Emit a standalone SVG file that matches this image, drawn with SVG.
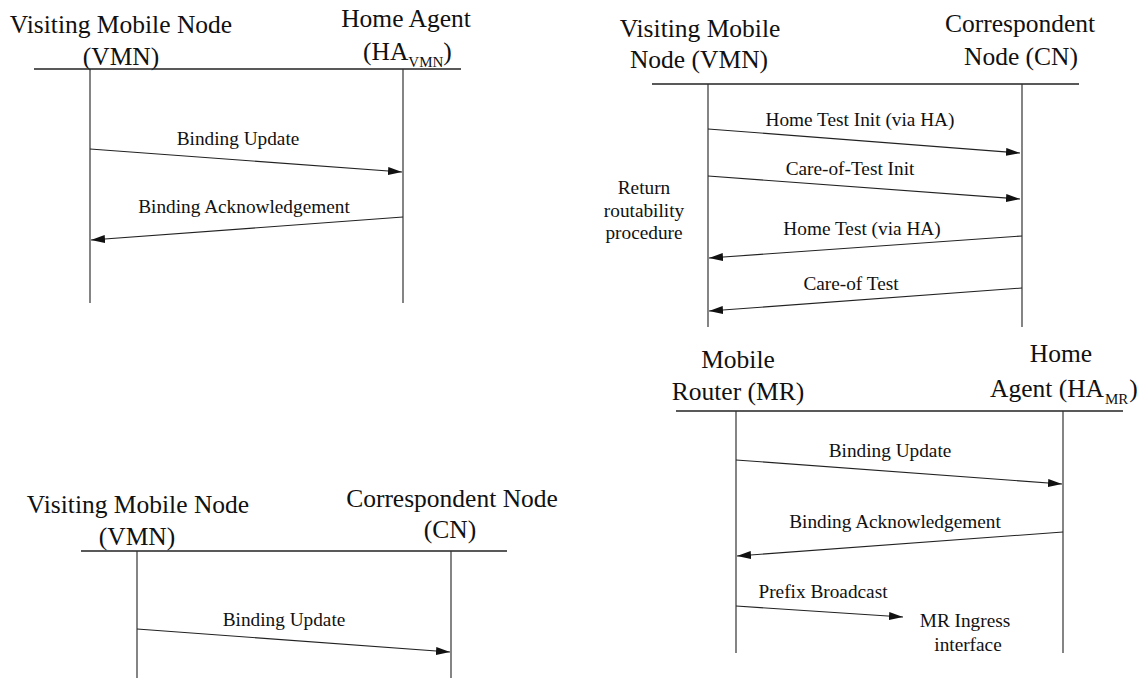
<svg xmlns="http://www.w3.org/2000/svg" width="1148" height="678" viewBox="0 0 1148 678">
<style>
.t{font-family:"Liberation Serif","Times New Roman",serif;font-size:25.5px;fill:#111;}
.l{font-family:"Liberation Serif","Times New Roman",serif;font-size:19.3px;fill:#111;}
.m{text-anchor:middle;}
.sub{font-size:15px;}
.hdr{stroke:#222;stroke-width:1.3;}
.life{stroke:#333;stroke-width:1.2;}
.msg{stroke:#222;stroke-width:1.1;fill:none;marker-end:url(#ah);}
</style>
<defs>
<marker id="ah" viewBox="0 0 14 8" refX="14" refY="4" markerWidth="14" markerHeight="8" markerUnits="userSpaceOnUse" orient="auto">
<path d="M0,0 L14,4 L0,8 z" fill="#111"/>
</marker>
</defs>
<rect width="1148" height="678" fill="#fff"/>

<!-- Panel 1 -->
<g id="p1-vmn">
<text class="t m" x="121" y="33">Visiting Mobile Node</text>
<text class="t m" x="121" y="65">(VMN)</text>
<line class="hdr" x1="34" y1="69" x2="248" y2="69"/>
<line class="life" x1="90" y1="69" x2="90" y2="303"/>
</g>
<g id="p1-ha">
<text class="t m" x="406" y="27">Home Agent</text>
<text class="t" x="363" y="60">(HA<tspan class="sub" dy="7">VMN</tspan><tspan dy="-7">)</tspan></text>
<line class="hdr" x1="248" y1="69" x2="461" y2="69"/>
<line class="life" x1="403" y1="69" x2="403" y2="303"/>
</g>

<!-- Panel 2 -->
<g id="p2-vmn">
<text class="t m" x="700" y="37">Visiting Mobile</text>
<text class="t m" x="699" y="68">Node (VMN)</text>
<text class="l m" x="644" y="194">Return</text>
<text class="l m" x="644" y="217">routability</text>
<text class="l m" x="644" y="239">procedure</text>
<line class="hdr" x1="652" y1="84" x2="866" y2="84"/>
<line class="life" x1="708" y1="84" x2="708" y2="327"/>
</g>
<g id="p2-cn">
<text class="t m" x="1020" y="32">Correspondent</text>
<text class="t m" x="1021" y="65">Node (CN)</text>
<line class="hdr" x1="866" y1="84" x2="1079" y2="84"/>
<line class="life" x1="1022" y1="84" x2="1022" y2="327"/>
</g>

<!-- Panel 3 -->
<g id="p3-mr">
<text class="t m" x="738" y="368">Mobile</text>
<text class="t m" x="738" y="400">Router (MR)</text>
<text class="l m" x="965" y="627">MR Ingress</text>
<text class="l m" x="968" y="651">interface</text>
<line class="hdr" x1="676" y1="411" x2="900" y2="411"/>
<line class="life" x1="736" y1="411" x2="736" y2="653"/>
</g>
<g id="p3-ha">
<text class="t m" x="1061" y="362">Home</text>
<text class="t" x="990" y="397">Agent (HA<tspan class="sub" dy="7" dx="1">MR</tspan><tspan dy="-7" dx="1">)</tspan></text>
<line class="hdr" x1="900" y1="411" x2="1123" y2="411"/>
<line class="life" x1="1063" y1="411" x2="1063" y2="653"/>
</g>

<!-- Panel 4 -->
<g id="p4-vmn">
<text class="t m" x="138" y="513">Visiting Mobile Node</text>
<text class="t m" x="137" y="545">(VMN)</text>
<line class="hdr" x1="81" y1="551" x2="294" y2="551"/>
<line class="life" x1="137" y1="551" x2="137" y2="678"/>
</g>
<g id="p4-cn">
<text class="t m" x="452" y="507">Correspondent Node</text>
<text class="t m" x="450" y="538">(CN)</text>
<line class="hdr" x1="294" y1="551" x2="507" y2="551"/>
<line class="life" x1="451" y1="551" x2="451" y2="678"/>
</g>

<g id="connectors">
<line class="msg" x1="90" y1="149" x2="402" y2="172"/>
<text class="l m" x="238" y="145">Binding Update</text>
<line class="msg" x1="403" y1="217" x2="91" y2="240"/>
<text class="l m" x="244" y="213">Binding Acknowledgement</text>

<line class="msg" x1="708" y1="129" x2="1020" y2="153"/>
<text class="l m" x="860" y="126">Home Test Init (via HA)</text>
<line class="msg" x1="708" y1="176" x2="1020" y2="199"/>
<text class="l m" x="850" y="175">Care-of-Test Init</text>
<line class="msg" x1="1022" y1="236" x2="709" y2="258"/>
<text class="l m" x="862" y="235">Home Test (via HA)</text>
<line class="msg" x1="1022" y1="288" x2="709" y2="311"/>
<text class="l m" x="851" y="290">Care-of Test</text>

<line class="msg" x1="736" y1="460" x2="1062" y2="484"/>
<text class="l m" x="890" y="457">Binding Update</text>
<line class="msg" x1="1063" y1="532" x2="737" y2="556"/>
<text class="l m" x="895" y="528">Binding Acknowledgement</text>
<line class="msg" x1="736" y1="606" x2="903" y2="617"/>
<text class="l m" x="823" y="598">Prefix Broadcast</text>

<line class="msg" x1="137" y1="629" x2="450" y2="652"/>
<text class="l m" x="284" y="626">Binding Update</text>
</g>
</svg>
